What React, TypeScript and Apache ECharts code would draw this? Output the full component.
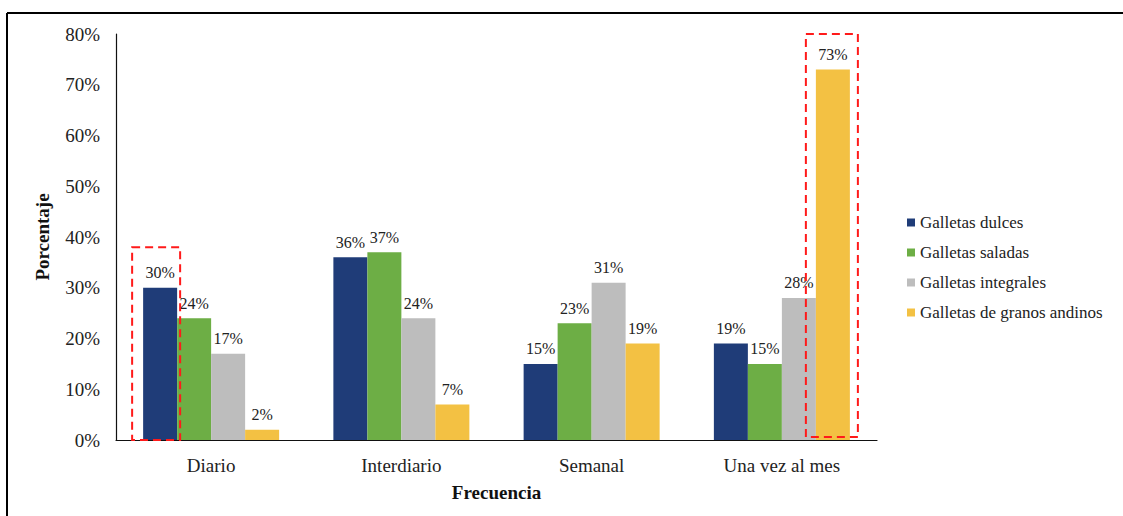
import React, { useEffect, useRef } from "react";
import * as echarts from "echarts";

const categories = ["Diario", "Interdiario", "Semanal", "Una vez al mes"];
const seriesNames = [
  "Galletas dulces",
  "Galletas saladas",
  "Galletas integrales",
  "Galletas de granos andinos",
];
const dulces = [30, 36, 15, 19];
const saladas = [24, 37, 23, 15];
const integrales = [17, 24, 31, 28];
const granosAndinos = [2, 7, 19, 73];
const seriesColors = ["#1F3C78", "#6DAE45", "#BDBDBD", "#F3C143"];
const yTicks = [0, 10, 20, 30, 40, 50, 60, 70, 80];

const SERIF = "Liberation Serif";
const W = 1123;
const H = 516;
const GRID = { left: 116, right: 246, top: 34, bottom: 76 };
const BAR_W = 34;

export default function App() {
  const ref = useRef<HTMLDivElement>(null);

  useEffect(() => {
    if (!ref.current) return;
    const chart = echarts.init(ref.current, undefined, { renderer: "svg" });
    const values = [dulces, saladas, integrales, granosAndinos];

    // Plot-area scales used to place the dashed highlight boxes
    const plotW = W - GRID.left - GRID.right;
    const plotH = H - GRID.top - GRID.bottom;
    const yMax = yTicks[yTicks.length - 1];
    const xCenter = (i: number) => GRID.left + (plotW / categories.length) * (i + 0.5);
    const yPix = (v: number) => GRID.top + plotH * (1 - v / yMax);
    const y0 = yPix(0);
    const box1Top = yPix(38);
    const box1Left = xCenter(0) - 2 * BAR_W - 11;
    const box2Left = xCenter(3) + BAR_W - 10;
    const dashed = { stroke: "#FF1A1A", lineWidth: 2, lineDash: [8, 5], fill: "none" };

    chart.setOption({
      animation: false,
      grid: { ...GRID, containLabel: false },
      legend: {
        orient: "vertical",
        left: 902,
        top: 209,
        itemWidth: 8,
        itemHeight: 8,
        itemGap: 13,
        icon: "rect",
        textStyle: { fontFamily: SERIF, fontSize: 17, color: "#222" },
        data: seriesNames,
      },
      xAxis: {
        type: "category",
        data: categories,
        name: "Frecuencia",
        nameLocation: "middle",
        nameGap: 43,
        nameTextStyle: { fontFamily: SERIF, fontSize: 19, fontWeight: "bold", color: "#111" },
        axisLine: { lineStyle: { color: "#111", width: 1.2 } },
        axisTick: { show: false },
        axisLabel: { fontFamily: SERIF, fontSize: 19, color: "#222", margin: 16 },
      },
      yAxis: {
        type: "value",
        min: yTicks[0],
        max: yMax,
        interval: 10,
        name: "Porcentaje",
        nameLocation: "middle",
        nameGap: 64,
        nameRotate: 90,
        nameTextStyle: { fontFamily: SERIF, fontSize: 19, fontWeight: "bold", color: "#111" },
        axisLine: { show: true, lineStyle: { color: "#111", width: 1.2 } },
        axisTick: { show: false },
        splitLine: { show: false },
        axisLabel: { fontFamily: SERIF, fontSize: 19, color: "#222", margin: 16, formatter: "{value}%" },
      },
      series: seriesNames.map((name, i) => ({
        name,
        type: "bar",
        data: values[i],
        barWidth: BAR_W,
        barGap: "0%",
        itemStyle: { color: seriesColors[i] },
        label: {
          show: true,
          position: "top",
          distance: 7,
          formatter: "{c}%",
          fontFamily: SERIF,
          fontSize: 16,
          color: "#222",
        },
      })),
      graphic: [
        { type: "line", shape: { x1: 7, y1: 13, x2: W, y2: 13 }, style: { stroke: "#000", lineWidth: 2 } },
        { type: "line", shape: { x1: 7, y1: 13, x2: 7, y2: H }, style: { stroke: "#000", lineWidth: 2 } },
        {
          type: "rect",
          shape: { x: box1Left, y: box1Top, width: 48, height: y0 - box1Top },
          style: dashed,
          z: 100,
        },
        {
          type: "rect",
          shape: { x: box2Left, y: yPix(yMax), width: 52, height: y0 - 3 - yPix(yMax) },
          style: dashed,
          z: 100,
        },
      ],
    });

    return () => chart.dispose();
  }, []);

  return (
    <div
      ref={ref}
      style={{ position: "fixed", left: 0, top: 0, width: W, height: H, background: "#fff" }}
    />
  );
}
